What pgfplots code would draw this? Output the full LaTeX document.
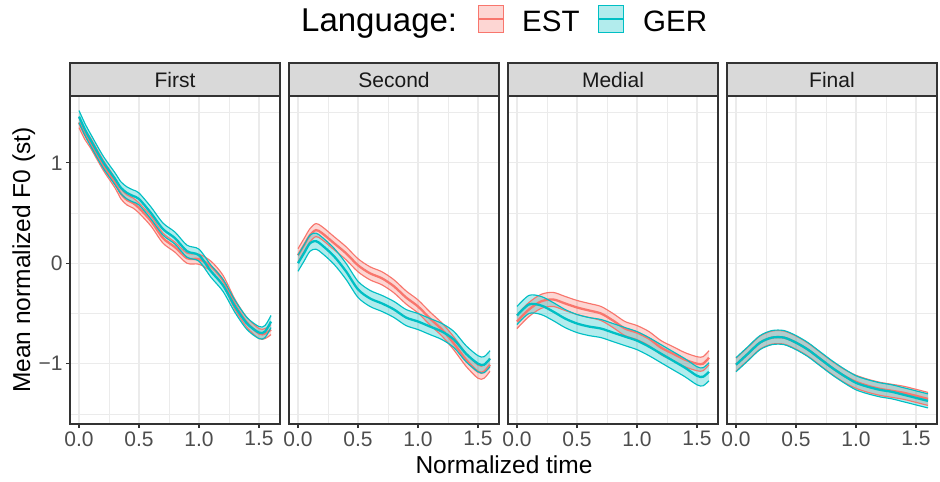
\documentclass[border=0pt]{standalone}
\usepackage{fontspec}
\setmainfont{Liberation Sans}
\usepackage{pgfplots}
\pgfplotsset{compat=1.18}
\usepgfplotslibrary{fillbetween}
\usepackage{pgfplotstable}

\definecolor{est}{HTML}{F8766D}
\definecolor{ger}{HTML}{00BFC4}
\definecolor{gridc}{HTML}{EBEBEB}
\definecolor{framec}{HTML}{333333}
\definecolor{stripc}{HTML}{D9D9D9}
\definecolor{ticklab}{HTML}{4D4D4D}

\pgfplotstableread{
x em es gm gs
0.00 1.40 0.05 1.46 0.06
0.05 1.28 0.05 1.33 0.06
0.10 1.19 0.05 1.22 0.06
0.20 0.98 0.05 1.01 0.06
0.30 0.80 0.05 0.84 0.06
0.35 0.69 0.05 0.75 0.06
0.40 0.63 0.05 0.70 0.06
0.45 0.60 0.05 0.67 0.06
0.50 0.55 0.05 0.64 0.06
0.60 0.42 0.05 0.50 0.06
0.70 0.25 0.05 0.34 0.06
0.80 0.16 0.05 0.25 0.06
0.90 0.05 0.05 0.12 0.06
1.00 0.04 0.05 0.08 0.06
1.10 -0.03 0.05 -0.08 0.06
1.20 -0.17 0.05 -0.22 0.06
1.30 -0.41 0.05 -0.43 0.06
1.40 -0.59 0.05 -0.60 0.06
1.50 -0.70 0.05 -0.69 0.06
1.55 -0.70 0.05 -0.68 0.06
1.60 -0.66 0.05 -0.58 0.06
}\tfirst

\pgfplotstableread{
x em es gm gs
0.00 0.08 0.065 0.00 0.08
0.05 0.18 0.065 0.10 0.08
0.10 0.28 0.065 0.20 0.08
0.15 0.33 0.065 0.22 0.08
0.20 0.30 0.065 0.18 0.08
0.30 0.20 0.065 0.07 0.08
0.40 0.10 0.065 -0.08 0.08
0.50 -0.02 0.065 -0.26 0.08
0.60 -0.10 0.065 -0.35 0.08
0.70 -0.15 0.065 -0.40 0.08
0.80 -0.23 0.065 -0.46 0.08
0.90 -0.34 0.065 -0.54 0.08
1.00 -0.43 0.065 -0.58 0.08
1.10 -0.55 0.065 -0.63 0.08
1.20 -0.66 0.065 -0.68 0.08
1.30 -0.80 0.065 -0.76 0.08
1.40 -0.96 0.065 -0.90 0.08
1.50 -1.08 0.065 -1.00 0.08
1.55 -1.08 0.065 -1.01 0.08
1.60 -1.01 0.065 -0.95 0.08
}\tsecond

\pgfplotstableread{
x em es gm gs
0.00 -0.58 0.07 -0.52 0.09
0.10 -0.46 0.07 -0.41 0.09
0.20 -0.38 0.07 -0.42 0.09
0.30 -0.36 0.07 -0.48 0.09
0.40 -0.40 0.07 -0.55 0.09
0.50 -0.44 0.07 -0.60 0.09
0.60 -0.47 0.07 -0.63 0.09
0.70 -0.50 0.07 -0.65 0.09
0.80 -0.57 0.07 -0.69 0.09
0.90 -0.65 0.07 -0.73 0.09
1.00 -0.69 0.07 -0.77 0.09
1.10 -0.75 0.07 -0.83 0.09
1.20 -0.84 0.07 -0.90 0.09
1.30 -0.90 0.07 -0.97 0.09
1.40 -0.96 0.07 -1.04 0.09
1.50 -1.00 0.07 -1.12 0.09
1.55 -1.00 0.07 -1.13 0.09
1.60 -0.94 0.07 -1.08 0.09
}\tmedial

\pgfplotstableread{
x em es gm gs
0.00 -1.01 0.065 -1.01 0.07
0.10 -0.90 0.065 -0.90 0.07
0.20 -0.79 0.065 -0.79 0.07
0.30 -0.74 0.065 -0.74 0.07
0.40 -0.74 0.065 -0.74 0.07
0.50 -0.79 0.065 -0.79 0.07
0.60 -0.86 0.065 -0.86 0.07
0.70 -0.95 0.065 -0.95 0.07
0.80 -1.04 0.065 -1.04 0.07
0.90 -1.12 0.065 -1.12 0.07
1.00 -1.18 0.065 -1.19 0.07
1.10 -1.22 0.065 -1.23 0.07
1.20 -1.25 0.065 -1.26 0.07
1.30 -1.27 0.065 -1.28 0.07
1.40 -1.29 0.065 -1.31 0.07
1.50 -1.32 0.065 -1.34 0.07
1.60 -1.35 0.065 -1.37 0.07
}\tfinal

\newcommand\ribbon[4]{%
  \addplot[draw=none, smooth, name path=#4u] table[x=x, y expr=\thisrow{#2}+\thisrow{#3}] {#1};
  \addplot[draw=none, smooth, name path=#4l] table[x=x, y expr=\thisrow{#2}-\thisrow{#3}] {#1};
  \addplot[fill=#4, fill opacity=0.3, draw=none] fill between[of=#4u and #4l];
  \addplot[#4, line width=1.15pt, smooth] table[x=x, y expr=\thisrow{#2}+\thisrow{#3}] {#1};
  \addplot[#4, line width=1.15pt, smooth] table[x=x, y expr=\thisrow{#2}-\thisrow{#3}] {#1};
  \addplot[#4, line width=2.3pt, smooth] table[x=x, y=#2] {#1};
}

\pgfplotsset{
  facet/.style={
    width=210pt, height=328pt, scale only axis,
    xmin=-0.075, xmax=1.675, ymin=-1.6, ymax=1.665,
    xtick={0,0.5,1,1.5}, xticklabels={0.0,0.5,1.0,1.5},
    minor xtick={0.25,0.75,1.25},
    ytick={-1,0,1}, minor ytick={-1.5,-0.5,0.5,1.5},
    grid=both,
    major grid style={gridc, line width=1.1pt},
    minor grid style={gridc, line width=0.55pt},
    axis line style={framec, line width=1.1pt},
    tick align=outside, major tick length=4pt, minor tick length=0pt,
    major tick style={framec, line width=1.1pt},
    xtick pos=bottom, ytick pos=left,
    ticklabel style={font=\fontsize{21}{21}\selectfont, text=ticklab},
  },
  inner/.style={yticklabels={}, major y tick style={draw=none}},
}

\begin{document}
\begin{tikzpicture}
\path (0,0) rectangle (940pt,482pt);

\begin{axis}[facet, name=p1, at={(70pt,58pt)}, anchor=south west,
  yticklabels={−1,0,1}]
  \ribbon{\tfirst}{em}{es}{est}
  \ribbon{\tfirst}{gm}{gs}{ger}
\end{axis}
\begin{axis}[facet, inner, name=p2, at={(289pt,58pt)}, anchor=south west]
  \ribbon{\tsecond}{em}{es}{est}
  \ribbon{\tsecond}{gm}{gs}{ger}
\end{axis}
\begin{axis}[facet, inner, name=p3, at={(508pt,58pt)}, anchor=south west]
  \ribbon{\tmedial}{em}{es}{est}
  \ribbon{\tmedial}{gm}{gs}{ger}
\end{axis}
\begin{axis}[facet, inner, name=p4, at={(727pt,58pt)}, anchor=south west]
  \ribbon{\tfinal}{em}{es}{est}
  \ribbon{\tfinal}{gm}{gs}{ger}
\end{axis}

% strips
\foreach \p/\t in {p1/First, p2/Second, p3/Medial, p4/Final}{
  \draw[framec, line width=1.1pt, fill=stripc] (\p.north west) rectangle ([yshift=33pt]\p.north east);
  \node[font=\fontsize{21}{21}\selectfont, text=black!90] at ([yshift=16.5pt]\p.north) {\t};
}

% axis titles
\node[font=\fontsize{24.5}{24.5}\selectfont, anchor=base] at (504pt,9pt) {Normalized time};
\node[font=\fontsize{24.5}{24.5}\selectfont, rotate=90, anchor=base] at (30pt,222pt) {Mean normalized F0 (st)};

% legend
\node[font=\fontsize{33}{33}\selectfont, anchor=base west, inner sep=0pt] at (301pt,450pt) {Language:};
\draw[est, line width=1pt, fill=est!30] (478pt,449pt) rectangle (503pt,476pt);
\draw[est, line width=2pt] (478pt,462.5pt) -- (503pt,462.5pt);
\node[font=\fontsize{29.5}{29.5}\selectfont, anchor=base west, inner sep=0pt] at (522pt,450pt) {EST};
\draw[ger, line width=1pt, fill=ger!30] (598pt,449pt) rectangle (623pt,476pt);
\draw[ger, line width=2pt] (598pt,462.5pt) -- (623pt,462.5pt);
\node[font=\fontsize{29.5}{29.5}\selectfont, anchor=base west, inner sep=0pt] at (643pt,450pt) {GER};
\end{tikzpicture}
\end{document}
